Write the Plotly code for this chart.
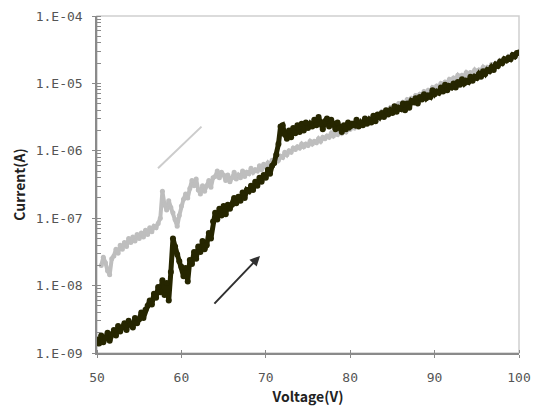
import plotly.graph_objects as go

# Sweep voltages (V), 0.25 V steps
voltage_up = [50 + 0.25 * i for i in range(201)]
voltage_down = [50.5 + 0.25 * i for i in range(199)]

# Forward sweep, log10 of current (A)
log_current_up = [
    -8.80, -8.86, -8.74, -8.84, -8.78, -8.70, -8.82, -8.72,
    -8.66, -8.74, -8.60, -8.68, -8.62, -8.56, -8.66, -8.52,
    -8.58, -8.62, -8.48, -8.56, -8.50, -8.40, -8.48, -8.36,
    -8.30, -8.22, -8.28, -8.12, -8.18, -8.02, -8.10, -7.92,
    -8.14, -7.96, -8.22, -7.80, -7.30, -7.42, -7.54, -7.64,
    -7.72, -7.86, -7.74, -7.94, -7.62, -7.68, -7.50, -7.60,
    -7.42, -7.50, -7.34, -7.46, -7.40, -7.22, -7.30, -7.05,
    -6.92, -7.02, -6.86, -6.96, -6.82, -6.94, -6.80, -6.86,
    -6.80, -6.70, -6.78, -6.68, -6.74, -6.62, -6.70, -6.58,
    -6.60, -6.52, -6.58, -6.46, -6.52, -6.40, -6.46, -6.36,
    -6.40, -6.28, -6.34, -6.22, -6.18, -6.06, -5.90, -5.64,
    -5.62, -5.76, -5.82, -5.70, -5.80, -5.66, -5.74, -5.62,
    -5.72, -5.60, -5.70, -5.58, -5.66, -5.60, -5.64, -5.54,
    -5.62, -5.50, -5.60, -5.68, -5.56, -5.52, -5.64, -5.54,
    -5.60, -5.68, -5.58, -5.66, -5.72, -5.62, -5.68, -5.58,
    -5.64, -5.60, -5.62, -5.54, -5.64, -5.58, -5.62, -5.52,
    -5.60, -5.54, -5.58, -5.48, -5.56, -5.46, -5.50, -5.44,
    -5.50, -5.40, -5.46, -5.40, -5.44, -5.34, -5.42, -5.36,
    -5.38, -5.30, -5.40, -5.30, -5.36, -5.26, -5.28, -5.22,
    -5.30, -5.20, -5.24, -5.16, -5.22, -5.18, -5.20, -5.10,
    -5.16, -5.12, -5.14, -5.06, -5.12, -5.02, -5.10, -5.04,
    -5.06, -5.00, -5.06, -4.98, -5.02, -4.94, -5.00, -4.96,
    -4.98, -4.90, -4.96, -4.90, -4.92, -4.86, -4.90, -4.82,
    -4.86, -4.80, -4.82, -4.76, -4.80, -4.72, -4.74, -4.68,
    -4.70, -4.64, -4.66, -4.62, -4.64, -4.58, -4.60, -4.55,
    -4.54,
]

# Reverse sweep, log10 of current (A)
log_current_down = [
    -7.70, -7.58,
    -7.66, -7.78, -7.84, -7.60, -7.56, -7.46, -7.52, -7.40,
    -7.46, -7.36, -7.42, -7.30, -7.36, -7.28, -7.34, -7.24,
    -7.30, -7.22, -7.28, -7.18, -7.24, -7.14, -7.20, -7.12,
    -7.14, -7.08, -7.00, -6.60, -6.80, -6.88, -6.74, -6.84,
    -6.92, -7.02, -7.12, -6.96, -6.82, -6.72, -6.64, -6.70,
    -6.56, -6.44, -6.52, -6.42, -6.58, -6.64, -6.52, -6.60,
    -6.52, -6.44, -6.54, -6.40, -6.38, -6.30, -6.40, -6.32,
    -6.36, -6.44, -6.36, -6.46, -6.40, -6.32, -6.42, -6.36,
    -6.40, -6.30, -6.38, -6.32, -6.34, -6.26, -6.32, -6.28,
    -6.30, -6.22, -6.28, -6.20, -6.24, -6.18, -6.22, -6.14,
    -6.18, -6.10, -6.14, -6.08, -6.10, -6.02, -6.06, -6.00,
    -6.02, -5.96, -5.98, -5.94, -5.96, -5.90, -5.94, -5.90,
    -5.92, -5.86, -5.90, -5.86, -5.88, -5.82, -5.86, -5.80,
    -5.82, -5.78, -5.80, -5.74, -5.78, -5.74, -5.76, -5.70,
    -5.74, -5.70, -5.72, -5.66, -5.68, -5.64, -5.66, -5.60,
    -5.62, -5.58, -5.60, -5.54, -5.56, -5.52, -5.54, -5.48,
    -5.50, -5.46, -5.48, -5.42, -5.44, -5.40, -5.42, -5.36,
    -5.38, -5.34, -5.36, -5.30, -5.32, -5.28, -5.30, -5.24,
    -5.26, -5.22, -5.24, -5.18, -5.20, -5.16, -5.18, -5.12,
    -5.14, -5.10, -5.12, -5.06, -5.08, -5.04, -5.06, -5.00,
    -5.02, -4.98, -5.00, -4.94, -4.96, -4.92, -4.94, -4.88,
    -4.92, -4.88, -4.90, -4.84, -4.88, -4.84, -4.86, -4.80,
    -4.84, -4.80, -4.82, -4.76, -4.80, -4.76, -4.78, -4.72,
    -4.74, -4.70, -4.72, -4.66, -4.68, -4.64, -4.66, -4.60,
    -4.62, -4.58, -4.60, -4.56,
    -4.53,
]

current_up = [10 ** v for v in log_current_up]
current_down = [10 ** v for v in log_current_down]

x_ticks = [50, 60, 70, 80, 90, 100]
y_ticks = [1e-9, 1e-8, 1e-7, 1e-6, 1e-5, 1e-4]
y_tick_labels = ["1.E-09", "1.E-08", "1.E-07", "1.E-06", "1.E-05", "1.E-04"]
y_minor = [m * 10 ** e for e in range(-9, -4) for m in range(1, 10)] + [1e-4]

DARK = "#262600"
GRAY = "#bebebe"
AXIS = "#8a8a8a"
FONT = "DejaVu Sans Mono"

fig = go.Figure()
fig.add_trace(go.Scatter(
    x=voltage_down, y=current_down, mode="lines+markers",
    line=dict(color=GRAY, width=4), marker=dict(color=GRAY, size=5),
    showlegend=False,
))
fig.add_trace(go.Scatter(
    x=voltage_up, y=current_up, mode="lines+markers",
    line=dict(color=DARK, width=5), marker=dict(color=DARK, size=6),
    showlegend=False,
))

# sweep direction arrows
fig.add_annotation(
    x=57.23, y=-6.26, ax=62.56, ay=-5.62, xref="x", yref="y", axref="x", ayref="y",
    showarrow=True, arrowhead=0, arrowwidth=2, arrowcolor="#cccccc", text="",
)
fig.add_annotation(
    x=69.31, y=-7.56, ax=63.74, ay=-8.29, xref="x", yref="y", axref="x", ayref="y",
    showarrow=True, arrowhead=2, arrowsize=1, arrowwidth=2, arrowcolor="#303030", text="",
)

# light frame on the top and right edges of the plot area
fig.add_shape(type="rect", xref="paper", yref="paper", x0=0, y0=0, x1=1, y1=1,
              line=dict(color="#cfcfcf", width=1.5), layer="below")

fig.update_layout(
    width=536, height=408,
    margin=dict(l=97, r=17, t=16, b=55),
    paper_bgcolor="white", plot_bgcolor="white",
    font=dict(family=FONT, size=13, color="#555555"),
    xaxis=dict(
        range=[50, 100], tickvals=x_ticks, ticks="outside", ticklen=3,
        tickcolor=AXIS, showline=True, linecolor=AXIS, linewidth=1.5,
        showgrid=False, zeroline=False, ticklabelstandoff=9, automargin=False,
        minor=dict(tickvals=x_ticks, ticks="inside", ticklen=3, tickcolor=AXIS, showgrid=False),
        title=dict(text="<b>Voltage(V)</b>", font=dict(family="Noto Sans CJK JP", size=14, color="#222222"), standoff=8),
    ),
    yaxis=dict(
        type="log", range=[-9, -4], tickvals=y_ticks, ticktext=y_tick_labels,
        ticks="outside", ticklen=3, tickcolor=AXIS, ticklabelstandoff=7, automargin=False,
        showline=True, linecolor=AXIS, linewidth=1.5, showgrid=False, zeroline=False,
        minor=dict(tickvals=y_minor, ticks="inside", ticklen=4, tickcolor=AXIS, showgrid=False),
        title=dict(text="<b>Current(A)</b>", font=dict(family="Noto Sans CJK JP", size=14, color="#222222"), standoff=7),
    ),
)

fig.write_html("out.html")
